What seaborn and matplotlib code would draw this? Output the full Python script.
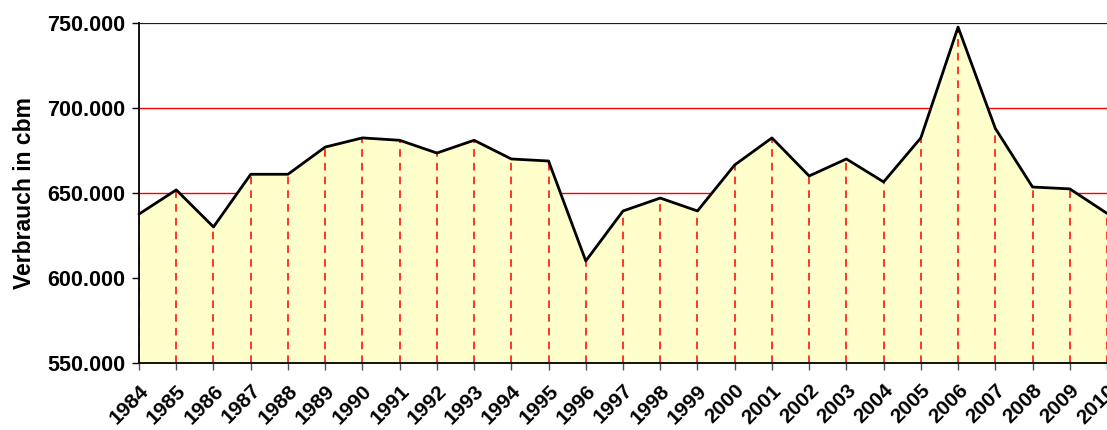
import matplotlib
matplotlib.use("Agg")
import matplotlib.pyplot as plt
import pandas as pd
import seaborn as sns

years = list(range(1984, 2011))
verbrauch = [637600, 651800, 630000, 661000, 661000, 677000, 682400, 681000,
             673500, 681000, 670000, 668800, 610000, 639400, 647000, 639400,
             666500, 682400, 660000, 670000, 656500, 682400, 747600, 688000,
             653500, 652400, 638000]
y_ticks = [550000, 600000, 650000, 700000, 750000]

df = pd.DataFrame({"Jahr": years, "Verbrauch": verbrauch})

sns.set_style("white")
plt.rcParams["font.family"] = ["Liberation Sans", "DejaVu Sans"]
plt.rcParams["text.color"] = "black"
plt.rcParams["xtick.color"] = "black"
plt.rcParams["ytick.color"] = "black"
plt.rcParams["axes.labelcolor"] = "black"

fig = plt.figure(figsize=(11.07, 4.30), dpi=100)
ax = fig.add_axes([0.1256, 0.156, 0.8744, 0.7905])

# Gitterlinien hinter der Fläche
for v in y_ticks[1:-1]:
    ax.axhline(v, color="#ff0000", lw=1, zorder=0)
ax.axhline(y_ticks[-1], color="#4a0a0a", lw=1.6, zorder=0)

ax.fill_between(df["Jahr"], y_ticks[0], df["Verbrauch"], color="#ffffcc", zorder=1)
ax.vlines(df["Jahr"], y_ticks[0], df["Verbrauch"], colors="#ff0000",
          linestyles=(0, (5, 4)), lw=1.1, zorder=2)
sns.lineplot(data=df, x="Jahr", y="Verbrauch", color="black", lw=2, ax=ax,
             zorder=3, clip_on=False)

ax.set_xlim(years[0], years[-1])
ax.set_ylim(y_ticks[0], y_ticks[-1])
ax.set_yticks(y_ticks)
ax.set_yticklabels([f"{v:,}".replace(",", ".") for v in y_ticks],
                   fontsize=15.5, fontweight="bold")
ax.set_xticks(years)
ax.set_xticklabels([str(y) for y in years], rotation=45, ha="right",
                   rotation_mode="anchor", fontsize=15, fontweight="bold")
ax.tick_params(axis="both", direction="out", length=5, width=1,
               left=True, bottom=True)
ax.tick_params(axis="x", pad=8, color="#555555")
ax.tick_params(axis="y", pad=5)

ax.set_xlabel("")
ax.set_ylabel("Verbrauch in cbm", fontsize=16.5, fontweight="bold", labelpad=8)

for side in ["top", "right"]:
    ax.spines[side].set_visible(False)
for side in ["left", "bottom"]:
    ax.spines[side].set_color("black")
    ax.spines[side].set_linewidth(1.3)

fig.savefig("out.png", dpi=100)
